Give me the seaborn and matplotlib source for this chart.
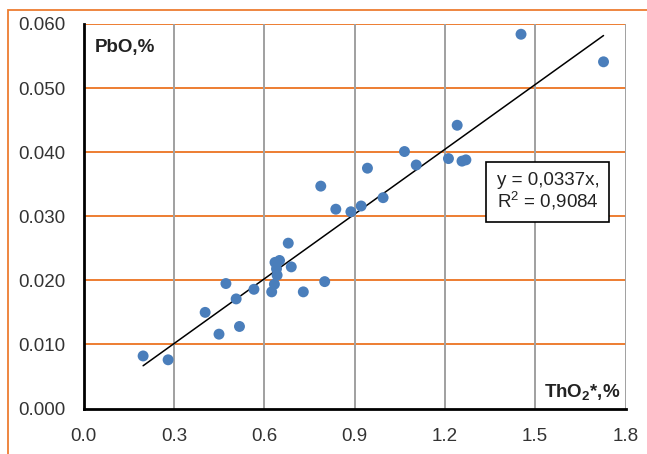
import numpy as np
import pandas as pd
import matplotlib
matplotlib.use('Agg')
import matplotlib.pyplot as plt
from matplotlib.patches import Rectangle
import seaborn as sns

# ThO2* vs PbO values
tho2 = [0.198, 0.281, 0.404, 0.473, 0.507, 0.450, 0.518, 0.566, 0.625, 0.634,
        0.636, 0.651, 0.641, 0.643, 0.680, 0.690, 0.730, 0.801, 0.788, 0.838,
        0.888, 0.922, 0.943, 0.995, 1.066, 1.105, 1.212, 1.241, 1.257, 1.270,
        1.453, 1.727]
pbo = [0.0082, 0.0076, 0.0150, 0.0195, 0.0171, 0.0116, 0.0128, 0.0186, 0.0182, 0.0194,
       0.0228, 0.0231, 0.0218, 0.0208, 0.0258, 0.0221, 0.0182, 0.0198, 0.0347, 0.0311,
       0.0307, 0.0316, 0.0375, 0.0329, 0.0401, 0.0380, 0.0390, 0.0442, 0.0386, 0.0388,
       0.0584, 0.0541]
slope = 0.0337
r2 = 0.9084
xticks = [0.0, 0.3, 0.6, 0.9, 1.2, 1.5, 1.8]
yticks = [0.000, 0.010, 0.020, 0.030, 0.040, 0.050, 0.060]

df = pd.DataFrame({'ThO2': tho2, 'PbO': pbo})

sns.set_style('white')
plt.rcParams['font.family'] = ['Liberation Sans', 'DejaVu Sans']
plt.rcParams['mathtext.fontset'] = 'custom'
plt.rcParams['mathtext.rm'] = 'Liberation Sans'
plt.rcParams['mathtext.bf'] = 'Liberation Sans:bold'

orange = '#ED7D31'
fig = plt.figure(figsize=(6.47, 4.54), dpi=100)
ax = fig.add_axes([83.5 / 647, 45.5 / 454, 542 / 647, 384.5 / 454])

# outer orange frame (clipped at right/bottom)
fig.patches.append(Rectangle((8 / 647, -0.1), 1.2, 444 / 454 + 0.1,
                             transform=fig.transFigure, fill=False,
                             edgecolor=orange, linewidth=1.3, zorder=0))

sns.scatterplot(data=df, x='ThO2', y='PbO', ax=ax, color='#4A7EBB', s=62,
                edgecolor='none', zorder=4)

xs = np.array([min(tho2), max(tho2)])
ax.plot(xs, slope * xs, color='black', linewidth=1.1, zorder=3)

ax.set_xlim(0, 1.8)
ax.set_ylim(0, 0.06)
ax.set_xticks(xticks)
ax.set_yticks(yticks)
ax.set_xticklabels([f'{t:.1f}' for t in xticks])
ax.set_yticklabels([f'{t:.3f}' for t in yticks])
ax.tick_params(axis='both', length=0, labelsize=13.5, colors='#333333')
ax.tick_params(axis='x', pad=14)
ax.tick_params(axis='y', pad=13)
ax.set_xlabel('')
ax.set_ylabel('')

for t in yticks[1:]:
    ax.axhline(t, color=orange, linewidth=1.4, zorder=1)
for t in xticks[1:]:
    ax.axvline(t, color='#A0A0A0', linewidth=1.4, zorder=1)

for s in ['top', 'right']:
    ax.spines[s].set_visible(False)
for s in ['left', 'bottom']:
    ax.spines[s].set_color('black')
    ax.spines[s].set_linewidth(2)
    ax.spines[s].set_zorder(5)

ax.text(0.021, 0.938, 'PbO,%', transform=ax.transAxes, fontsize=13.5,
        fontweight='bold', ha='left', va='center', color='#222222')
ax.text(0.991, 0.04, r'ThO$_\mathbf{2}$*,%', transform=ax.transAxes, fontsize=13.5,
        fontweight='bold', ha='right', va='center', color='#222222')

ax.text(0.762, 0.563, f'y = {slope:.4f}x,\nR$^2$ = {r2:.4f}'.replace('.', ','),
        transform=ax.transAxes,
        fontsize=13.5, ha='left', va='center', color='#222222', linespacing=1.0,
        zorder=6,
        bbox=dict(boxstyle='square,pad=0.55', facecolor='white',
                  edgecolor='black', linewidth=1.2))

fig.savefig('out.png', dpi=100)
